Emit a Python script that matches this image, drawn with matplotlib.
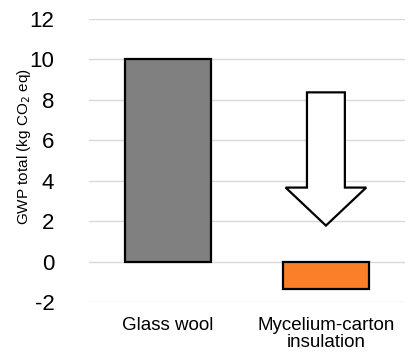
import numpy as np
import matplotlib
matplotlib.use('Agg')
import matplotlib.pyplot as plt
from matplotlib.patches import FancyArrow

plt.rcParams['font.family'] = ['Liberation Sans', 'DejaVu Sans']
plt.rcParams['axes.unicode_minus'] = False

categories = ['Glass wool', 'Mycelium-carton\ninsulation']
gwp_values = [10.0, -1.35]
bar_colors = ['#808080', '#fb7f26']
yticks = [-2, 0, 2, 4, 6, 8, 10, 12]

# reduction arrow (start value, tip value)
arrow_start = 8.37
arrow_tip = 1.78

fig = plt.figure(figsize=(4.14, 3.56), dpi=100)
ax = fig.add_axes([0.215, 0.1517, 0.763, 0.795])

index = np.arange(len(categories))
ax.bar(index, gwp_values, 0.545, color=bar_colors, edgecolor='black', linewidth=1.6, zorder=3)

arrow = FancyArrow(index[1], arrow_start, 0, arrow_tip - arrow_start, width=0.24,
                   head_width=0.51, head_length=1.88, length_includes_head=True,
                   facecolor='white', edgecolor='black', linewidth=1.6, zorder=4)
ax.add_patch(arrow)

ax.set_xlim(-0.5, 1.5)
ax.set_ylim(-2, 12)
ax.set_yticks(yticks)
ax.set_yticklabels([str(t) for t in yticks], fontsize=16)
ax.set_xticks(index)
ax.set_xticklabels(categories, fontsize=13.5, linespacing=1.0)
ax.tick_params(axis='y', length=0, pad=25)
ax.tick_params(axis='x', length=0, pad=11)
ax.grid(axis='y', color='#d9d9d9', linewidth=1.0, zorder=0)
for s in ax.spines.values():
    s.set_visible(False)
ax.set_ylabel('GWP total (kg CO$_2$ eq)', fontsize=11)
ax.yaxis.set_label_coords(-0.177, 0.548)

plt.savefig('out.png', dpi=100)
